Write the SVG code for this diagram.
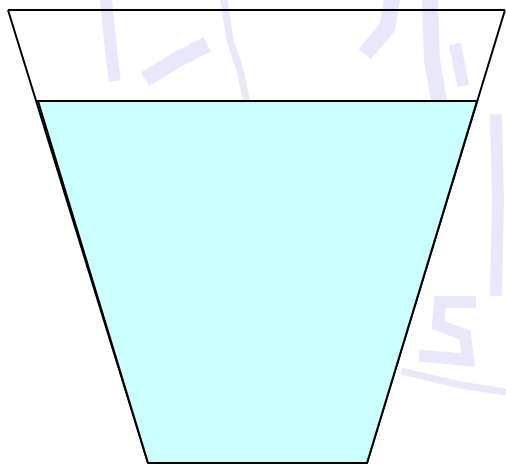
<svg xmlns="http://www.w3.org/2000/svg" width="506" height="464" viewBox="0 0 506 464">
<style>
.wm{fill:none;stroke:#d8d8f6;stroke-linecap:square;stroke-linejoin:miter;opacity:0.6}
.edge{fill:none;stroke:#000;stroke-width:2}
</style>
<rect width="506" height="464" fill="#fff"/>
<g id="watermark">
<path class="wm" stroke-width="12" d="M106 0 L110 40 L114 75"/>
<path class="wm" stroke-width="16" d="M152 75 L180 58 L200 48"/>
<path class="wm" stroke-width="7" d="M224 0 L230 40 L240 70 L246 98"/>
<path class="wm" stroke-width="16" d="M392 0 L387 28 L370 48"/>
<path class="wm" stroke-width="16" d="M430 0 L432 60 L438 95"/>
<path class="wm" stroke-width="12" d="M456 50 L462 80"/>
<path class="wm" stroke-width="12" d="M496 120 L498 200 L496 290"/>
<path class="wm" stroke-width="12" d="M470 302 L440 302 L438 325 L465 335 L468 360 L425 356"/>
<path class="wm" stroke-width="7" d="M405 372 L460 385 L506 392"/>
</g>
<g id="cup">
<path class="edge" d="M8 10 L505 10 M8 10 L148 463 M505 10 L367 463"/>
</g>
<g id="water">
<polygon points="38,101 477,101 367,463 148,463" fill="#ccffff" stroke="#000" stroke-width="2"/>
</g>
</svg>
